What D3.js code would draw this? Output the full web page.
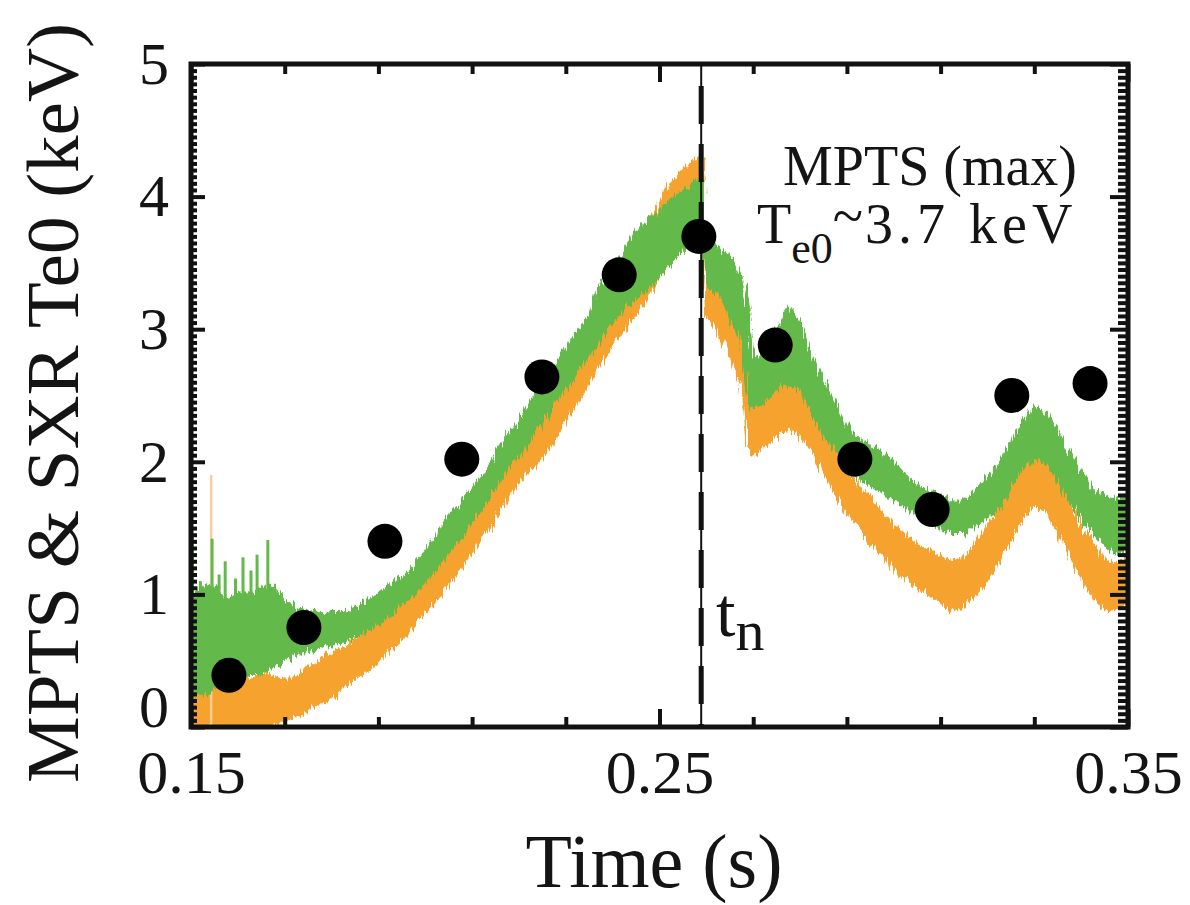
<!DOCTYPE html>
<html>
<head>
<meta charset="utf-8">
<script src="https://cdn.jsdelivr.net/npm/d3@7"></script>
<style>
  html, body { margin: 0; padding: 0; background: #ffffff; }
  svg text { font-family: "Liberation Serif", "Times New Roman", serif; fill: #141414; }
</style>
</head>
<body>
<svg id="chart" width="1190" height="905"></svg>
<script>
// Sample times (s) for the two soft X-ray Te0 traces
const sampleTime = [
  0.1500,0.1525,0.1550,0.1575,0.1600,0.1625,0.1650,0.1675,0.1700,0.1725,
  0.1750,0.1775,0.1800,0.1825,0.1850,0.1875,0.1900,0.1925,0.1950,0.1975,
  0.2000,0.2025,0.2050,0.2075,0.2100,0.2125,0.2150,0.2175,0.2200,0.2225,
  0.2250,0.2275,0.2300,0.2325,0.2350,0.2375,0.2400,0.2425,0.2450,0.2475,
  0.2500,0.2525,0.2550,0.2575,0.2590,0.2600,0.2625,0.2650,0.2675,0.2690,
  0.2700,0.2725,0.2750,0.2775,0.2800,0.2825,0.2850,0.2875,0.2900,0.2925,
  0.2950,0.2975,0.3000,0.3025,0.3050,0.3075,0.3100,0.3125,0.3150,0.3175,
  0.3200,0.3225,0.3250,0.3275,0.3300,0.3325,0.3350,0.3375,0.3400,0.3425,
  0.3450,0.3475,0.3500
];

// Green SXR trace: lower / upper edge of the noise band (keV)
const greenLow = [
  0.20,0.25,0.30,0.35,0.35,0.40,0.40,0.45,0.50,0.55,
  0.58,0.60,0.62,0.64,0.68,0.72,0.78,0.85,0.92,1.00,
  1.10,1.20,1.32,1.42,1.55,1.67,1.80,1.95,2.05,2.18,
  2.32,2.45,2.55,2.68,2.80,2.95,3.05,3.15,3.25,3.30,
  3.40,3.50,3.60,3.68,3.70,3.35,3.25,3.10,2.90,2.45,
  2.40,2.45,2.55,2.60,2.55,2.35,2.20,2.10,1.95,1.88,
  1.82,1.77,1.72,1.65,1.60,1.55,1.50,1.47,1.47,1.52,
  1.58,1.65,1.80,1.95,2.02,2.00,1.85,1.70,1.58,1.45,
  1.38,1.30,1.35
];
const greenHigh = [
  1.00,1.05,1.10,0.95,1.00,1.00,1.05,1.05,0.95,0.90,
  0.88,0.85,0.86,0.86,0.90,0.95,1.00,1.06,1.13,1.22,
  1.32,1.45,1.60,1.68,1.80,1.90,2.05,2.20,2.30,2.45,
  2.60,2.72,2.85,2.98,3.10,3.35,3.45,3.60,3.75,3.82,
  3.90,3.98,4.05,4.10,4.15,3.70,3.62,3.55,3.40,3.10,
  2.75,2.85,3.00,3.15,3.05,2.80,2.60,2.45,2.25,2.18,
  2.12,2.07,2.00,1.90,1.82,1.78,1.74,1.70,1.70,1.78,
  1.88,1.98,2.15,2.30,2.42,2.36,2.22,2.05,1.92,1.80,
  1.74,1.70,1.75
];

// Orange SXR trace: lower / upper edge of the noise band (keV)
const orangeLow = [
  0.00,0.00,0.00,0.00,0.00,0.00,0.00,0.02,0.05,0.08,
  0.12,0.18,0.22,0.30,0.36,0.42,0.50,0.58,0.66,0.76,
  0.86,0.96,1.08,1.20,1.32,1.44,1.58,1.72,1.85,1.95,
  2.02,2.15,2.30,2.45,2.58,2.75,2.88,3.00,3.12,3.25,
  3.40,3.50,3.60,3.70,3.75,3.10,3.00,2.80,2.60,2.10,
  2.06,2.12,2.20,2.25,2.20,2.08,1.92,1.78,1.62,1.52,
  1.40,1.30,1.20,1.12,1.06,1.00,0.94,0.88,0.92,1.00,
  1.12,1.25,1.42,1.58,1.68,1.62,1.48,1.30,1.12,0.98,
  0.88,0.88,0.95
];
const orangeHigh = [
  0.55,0.45,0.50,0.40,0.45,0.35,0.40,0.38,0.35,0.38,
  0.45,0.50,0.55,0.60,0.66,0.72,0.78,0.86,0.94,1.02,
  1.12,1.22,1.32,1.44,1.56,1.68,1.82,1.96,2.10,2.25,
  2.35,2.48,2.60,2.75,2.88,3.10,3.25,3.40,3.65,3.80,
  3.95,4.10,4.20,4.28,4.30,3.50,3.40,3.30,3.10,2.55,
  2.46,2.55,2.65,2.70,2.60,2.46,2.28,2.14,1.94,1.82,
  1.72,1.62,1.52,1.45,1.38,1.33,1.28,1.25,1.28,1.38,
  1.52,1.65,1.82,1.98,2.08,2.00,1.85,1.68,1.50,1.38,
  1.26,1.22,1.28
];

// Isolated noise spikes on the early part of the traces
const greenSpikeTime = [0.1503, 0.1520, 0.1545, 0.1560, 0.1573, 0.1595, 0.1611, 0.1628, 0.1641, 0.1664, 0.1690];
const greenSpikeTop  = [1.45, 1.10, 1.42, 1.15, 1.25, 1.12, 1.28, 1.18, 1.30, 1.41, 0.98];
const orangeSpikeTime = [0.1543];
const orangeSpikeTop  = [1.90];

// Thomson scattering (MPTS) central temperature points
const mptsTime = [0.1581,0.1741,0.1914,0.2078,0.2249,0.2414,0.2584,0.2747,0.2917,0.3082,0.3252,0.3419];
const mptsTe   = [0.39,0.75,1.40,2.02,2.64,3.41,3.70,2.88,2.02,1.64,2.50,2.59];

// Axis ticks and the marked instant t_n
const xMajorTicks = [0.15, 0.25, 0.35];
const xMinorTicks = [0.17,0.19,0.21,0.23,0.27,0.29,0.31,0.33];
const yMajorTicks = [0, 1, 2, 3, 4, 5];
const tN = 0.2589;

const svg = d3.select("#chart");
const frame = { left: 191, right: 1128, top: 64, bottom: 727 };

const x = d3.scaleLinear().domain([0.15, 0.35]).range([frame.left, frame.right]);
const y = d3.scaleLinear().domain([0, 5]).range([frame.bottom, frame.top]);

const yMinorTicks = d3.range(0, 5.0001, 0.05).filter(v => Math.abs(v - Math.round(v)) > 1e-6);

const defs = svg.append("defs");

// Clip the traces to the plotting frame
defs.append("clipPath").attr("id", "plotClip")
  .append("rect")
  .attr("x", frame.left).attr("y", frame.top)
  .attr("width", frame.right - frame.left).attr("height", frame.bottom - frame.top);

// Ragged edge for the noisy digitiser traces
const rough = defs.append("filter").attr("id", "rough")
  .attr("x", "-3%").attr("y", "-5%").attr("width", "106%").attr("height", "110%");
rough.append("feTurbulence")
  .attr("type", "fractalNoise").attr("baseFrequency", "0.45 0.025")
  .attr("numOctaves", 2).attr("seed", 4).attr("result", "noise");
rough.append("feDisplacementMap")
  .attr("in", "SourceGraphic").attr("in2", "noise")
  .attr("scale", 14)
  .attr("xChannelSelector", "B").attr("yChannelSelector", "G")
  .attr("result", "shifted");
rough.append("feGaussianBlur").attr("in", "shifted").attr("stdDeviation", 0.6);

const plot = svg.append("g").attr("clip-path", "url(#plotClip)");

const orangeColor = "#f5a32f";
const greenColor = "#63b94a";

function band(low, high) {
  return d3.area()
    .x((d, i) => x(sampleTime[i]))
    .y0((d, i) => y(low[i]))
    .y1((d, i) => y(high[i]))
    .curve(d3.curveLinear)(sampleTime);
}

// Orange trace (underneath)
plot.append("g").attr("filter", "url(#rough)")
  .append("path")
  .attr("d", band(orangeLow, orangeHigh))
  .attr("fill", orangeColor)
  .attr("stroke", orangeColor)
  .attr("stroke-width", 2)
  .attr("stroke-linejoin", "round");
plot.selectAll("line.ospike")
  .data(orangeSpikeTime)
  .join("line")
  .attr("class", "ospike")
  .attr("x1", d => x(d)).attr("x2", d => x(d))
  .attr("y1", y(0))
  .attr("y2", (d, i) => y(orangeSpikeTop[i]))
  .attr("stroke", "#f8cd96")
  .attr("stroke-width", 2.5);

// Green trace (on top)
plot.append("g").attr("filter", "url(#rough)")
  .append("path")
  .attr("d", band(greenLow, greenHigh))
  .attr("fill", greenColor)
  .attr("stroke", greenColor)
  .attr("stroke-width", 2)
  .attr("stroke-linejoin", "round");
plot.selectAll("line.gspike")
  .data(greenSpikeTime)
  .join("line")
  .attr("class", "gspike")
  .attr("x1", d => x(d)).attr("x2", d => x(d))
  .attr("y1", y(0.5))
  .attr("y2", (d, i) => y(greenSpikeTop[i]))
  .attr("stroke", greenColor)
  .attr("stroke-width", 3);

// Vertical marker at t_n: thin solid line with heavy dashes
svg.append("line")
  .attr("x1", x(tN)).attr("x2", x(tN))
  .attr("y1", frame.top).attr("y2", frame.bottom)
  .attr("stroke", "#111").attr("stroke-width", 2);
svg.append("line")
  .attr("x1", x(tN)).attr("x2", x(tN))
  .attr("y1", frame.top + 22).attr("y2", frame.bottom)
  .attr("stroke", "#111").attr("stroke-width", 5)
  .attr("stroke-dasharray", "38,20");

// MPTS points
svg.append("g").selectAll("circle")
  .data(mptsTime)
  .join("circle")
  .attr("cx", d => x(d))
  .attr("cy", (d, i) => y(mptsTe[i]))
  .attr("r", 17.5)
  .attr("fill", "#000");

// Axes: ticks point into the frame on all four sides
const axisStyle = g => {
  g.select(".domain").remove();
  g.selectAll(".tick line").attr("stroke", "#111").attr("stroke-width", 4);
  g.selectAll(".tick text").attr("fill", "#141414")
    .style("font-family", '"Liberation Serif", "Times New Roman", serif');
};

svg.append("g")
  .attr("transform", `translate(0,${frame.bottom})`)
  .call(d3.axisBottom(x).tickValues(xMajorTicks).tickSize(-18).tickPadding(22).tickFormat(d3.format(".2f")))
  .call(axisStyle)
  .call(g => g.selectAll(".tick text").style("font-size", "62px"));
svg.append("g")
  .attr("transform", `translate(0,${frame.bottom})`)
  .call(d3.axisBottom(x).tickValues(xMinorTicks).tickSize(-10).tickFormat(""))
  .call(axisStyle);

svg.append("g")
  .attr("transform", `translate(0,${frame.top})`)
  .call(d3.axisTop(x).tickValues(xMajorTicks).tickSize(-18).tickFormat(""))
  .call(axisStyle);
svg.append("g")
  .attr("transform", `translate(0,${frame.top})`)
  .call(d3.axisTop(x).tickValues(xMinorTicks).tickSize(-10).tickFormat(""))
  .call(axisStyle);

svg.append("g")
  .attr("transform", `translate(${frame.left},0)`)
  .call(d3.axisLeft(y).tickValues(yMajorTicks).tickSize(-14).tickPadding(22).tickFormat(d3.format("d")))
  .call(axisStyle)
  .call(g => g.selectAll(".tick text").style("font-size", "60px"))
  // lift the zero label clear of the time-axis labels
  .call(g => g.selectAll(".tick text").filter(d => d === 0).attr("y", -20));
svg.append("g")
  .attr("transform", `translate(${frame.left},0)`)
  .call(d3.axisLeft(y).tickValues(yMinorTicks).tickSize(-6).tickFormat(""))
  .call(axisStyle);

svg.append("g")
  .attr("transform", `translate(${frame.right},0)`)
  .call(d3.axisRight(y).tickValues(yMajorTicks).tickSize(-18).tickFormat(""))
  .call(axisStyle);
svg.append("g")
  .attr("transform", `translate(${frame.right},0)`)
  .call(d3.axisRight(y).tickValues(yMinorTicks).tickSize(-10).tickFormat(""))
  .call(axisStyle);

// Frame
svg.append("rect")
  .attr("x", frame.left).attr("y", frame.top)
  .attr("width", frame.right - frame.left).attr("height", frame.bottom - frame.top)
  .attr("fill", "none").attr("stroke", "#111").attr("stroke-width", 5);

// Axis titles
svg.append("text")
  .attr("x", 654).attr("y", 887)
  .attr("text-anchor", "middle")
  .style("font-size", "76px")
  .text("Time (s)");

svg.append("text")
  .attr("transform", "translate(78,403) rotate(-90)")
  .attr("text-anchor", "middle")
  .style("font-size", "75px")
  .text("MPTS & SXR Te0 (keV)");

// Annotation of the peak MPTS temperature
svg.append("text")
  .attr("x", 783).attr("y", 185)
  .style("font-size", "56px")
  .text("MPTS (max)");

const te = svg.append("text").attr("x", 757).attr("y", 243).style("font-size", "56px");
te.append("tspan").text("T");
te.append("tspan").attr("dy", 20).style("font-size", "44px").text("e0");
te.append("tspan").attr("dy", -28).text("~");
te.append("tspan").attr("dy", 8).attr("dx", 2).style("letter-spacing", "5px").text("3.7 keV");

// Label of the marked instant
const tn = svg.append("text").attr("x", 716).attr("y", 636).style("font-size", "70px");
tn.append("tspan").text("t");
tn.append("tspan").attr("dy", 14).style("font-size", "58px").text("n");
</script>
</body>
</html>
